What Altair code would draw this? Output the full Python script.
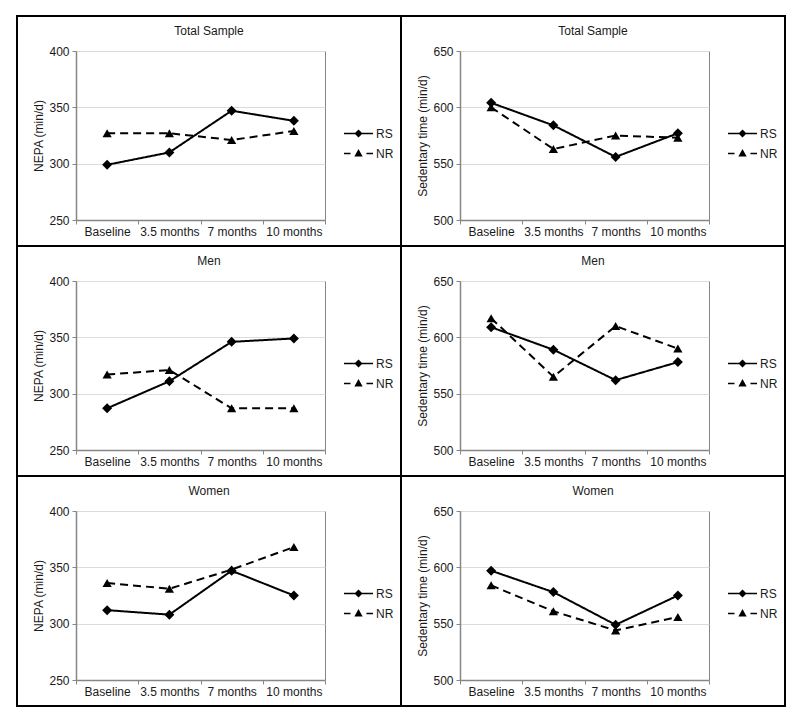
import altair as alt
import pandas as pd

timepoints = ["Baseline", "3.5 months", "7 months", "10 months"]
series_names = ["RS", "NR"]

panel_titles = ["Total Sample", "Total Sample", "Men", "Men", "Women", "Women"]
y_titles = ["NEPA (min/d)", "Sedentary time (min/d)"] * 3
y_domains = [[250, 400], [500, 650]] * 3
y_ticks = [[250, 300, 350, 400], [500, 550, 600, 650]] * 3

rs_values = [
    [299, 310, 347, 338],
    [604, 584, 556, 577],
    [287, 311, 346, 349],
    [609, 589, 562, 578],
    [312, 308, 347, 325],
    [597, 578, 549, 575],
]
nr_values = [
    [327, 327, 321, 329],
    [600, 563, 575, 573],
    [317, 321, 287, 287],
    [617, 565, 610, 590],
    [336, 331, 348, 368],
    [584, 561, 544, 556],
]

FONT = "Liberation Sans"
TXT = "#1a1a1a"
GRAY = "#868686"

RS_PATH = "M-1,0H1M0,-0.2L0.2,0L0,0.2L-0.2,0ZM0,-0.1L0.1,0L0,0.1L-0.1,0Z"
NR_PATH = "M-1,0H-0.55M0.55,0H1M0,-0.19L0.19,0.15L-0.19,0.15ZM0,-0.07L0.08,0.09L-0.08,0.09Z"

W, H = 249, 169

label_expr = ("datum.value == 0 ? 'Baseline' : datum.value == 1 ? '3.5 months' : "
              "datum.value == 2 ? '7 months' : datum.value == 3 ? '10 months' : ''")


def make_panel(k):
    rows = []
    for i, t in enumerate(timepoints):
        rows.append({"pos": i + 0.5, "time": t, "series": "RS", "value": rs_values[k][i]})
        rows.append({"pos": i + 0.5, "time": t, "series": "NR", "value": nr_values[k][i]})
    df = pd.DataFrame(rows)

    x = alt.X("pos:Q", scale=alt.Scale(domain=[0, 4], nice=False, zero=False),
              axis=alt.Axis(values=[0, 1, 2, 3, 4], labelExpr=label_expr, labelOffset=W / 8,
                            title=None, grid=False, labelFlush=False, labelOverlap=False,
                            tickSize=4, labelPadding=2))
    y = alt.Y("value:Q", scale=alt.Scale(domain=y_domains[k], nice=False, zero=False),
              axis=alt.Axis(values=y_ticks[k], title=y_titles[k], grid=True,
                            tickSize=4, labelPadding=3, titlePadding=3))

    frame = alt.Chart(pd.DataFrame({"f": [0]})).mark_rect(
        fill="transparent", stroke="black", strokeWidth=2, clip=False
    ).encode(x=alt.value(-59), x2=alt.value(325), y=alt.value(-35), y2=alt.value(195))

    line = alt.Chart(df).mark_line(color="black", strokeWidth=2).encode(
        x=x, y=y,
        strokeDash=alt.StrokeDash("series:N", scale=alt.Scale(domain=series_names, range=[[1, 0], [8, 5]]),
                                  legend=None),
        detail="series:N",
    )
    pts = alt.Chart(df).mark_point(filled=True, color="black", opacity=1).encode(
        x=x, y=y,
        shape=alt.Shape("series:N", scale=alt.Scale(domain=series_names, range=["diamond", "triangle-up"]),
                        legend=None),
        size=alt.Size("series:N", scale=alt.Scale(domain=series_names, range=[100, 85]), legend=None),
    )
    carrier = alt.Chart(df).mark_point(filled=False, color="black", strokeWidth=1.6,
                                       opacity=0).encode(
        x=x, y=y,
        shape=alt.Shape("series:N", scale=alt.Scale(domain=series_names, range=[RS_PATH, NR_PATH]),
                        legend=alt.Legend(title=None, orient="none", legendX=267, legendY=74,
                                          padding=0, symbolSize=841, symbolOpacity=1,
                                          symbolStrokeWidth=1.6, symbolStrokeColor="black",
                                          clipHeight=17, rowPadding=3,
                                          labelFontSize=12, labelFont=FONT, labelColor=TXT,
                                          labelOffset=2)),
    )
    return alt.layer(frame, line, pts, carrier).resolve_scale(shape="independent").properties(
        width=W, height=H,
        title=alt.TitleParams(panel_titles[k], fontSize=12, font=FONT, fontWeight="normal",
                              color=TXT, anchor="middle", frame="bounds", offset=-23),
    )


panels = [make_panel(k) for k in range(6)]

chart = alt.concat(*panels, columns=2, spacing={"row": 61, "column": 135}, bounds="flush").properties(
    padding={"left": 7, "top": 6, "right": 5, "bottom": 5},
    background="white",
).configure_view(stroke=GRAY, strokeWidth=1).configure_axis(
    labelFont=FONT, labelFontSize=12, labelColor=TXT,
    titleFont=FONT, titleFontSize=12, titleFontWeight="normal", titleColor=TXT,
    domainColor=GRAY, domainWidth=1.5, tickColor=GRAY, gridColor="#dcdcdc", gridWidth=1,
)

chart.save("out.html", embed_options={"renderer": "svg", "actions": False})
